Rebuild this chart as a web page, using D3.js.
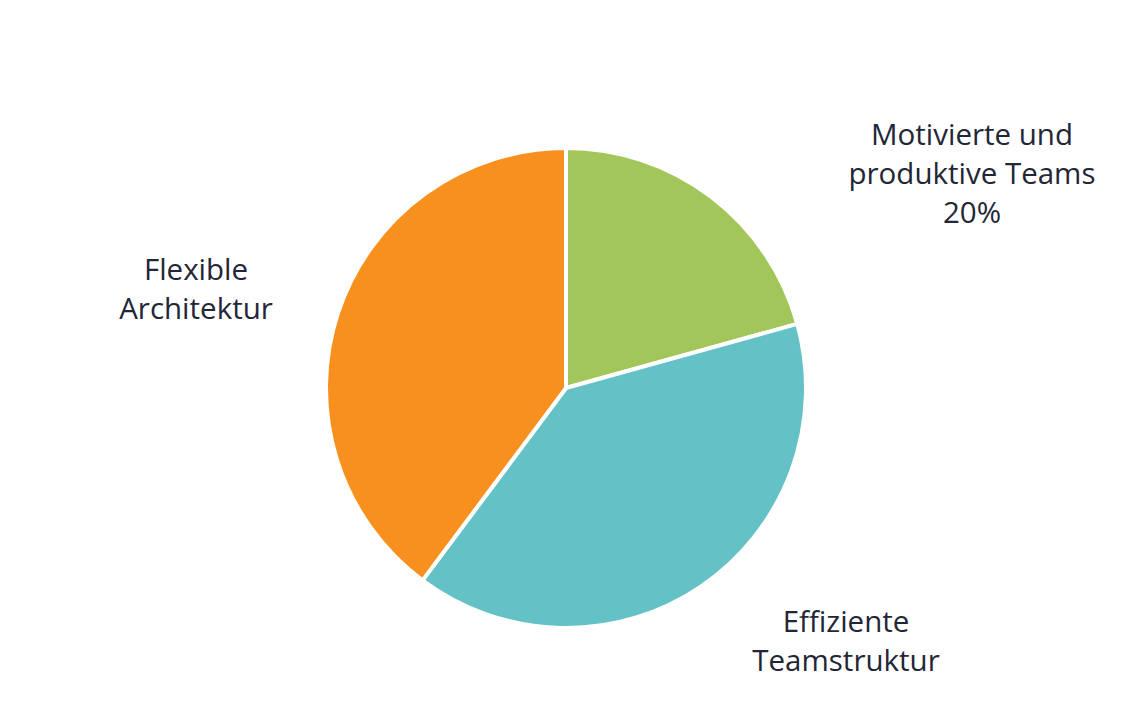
<!DOCTYPE html>
<html>
<head>
<meta charset="utf-8">
<script src="https://cdn.jsdelivr.net/npm/d3@7"></script>
<style>
  html, body { margin: 0; padding: 0; background: #ffffff; }
  svg { display: block; }
</style>
</head>
<body>
<svg id="chart" width="1130" height="702"></svg>
<script>
// Data
const categories = ["Motivierte und produktive Teams", "Effiziente Teamstruktur", "Flexible Architektur"];
const values = [20.7, 39.5, 39.8];
const labelLines = [
  ["Motivierte und", "produktive Teams", "20%"],
  ["Effiziente", "Teamstruktur"],
  ["Flexible", "Architektur"]
];
const colors = ["#A3C65A", "#64C1C5", "#F7901E"];

// Layout
const W = 1130, H = 702;
const cx = 566, cy = 388, R = 240;
const labelAnchors = [ [972, 145], [846, 632], [196, 280] ]; // first-line baselines
const lineHeight = 39;

const svg = d3.select("#chart");
const g = svg.append("g").attr("transform", `translate(${cx},${cy})`);

const data = categories.map((c, i) => ({ name: c, value: values[i], i }));
const pie = d3.pie().value(d => d.value).sort(null);
const arc = d3.arc().innerRadius(0).outerRadius(R);

g.selectAll("path.slice")
  .data(pie(data))
  .join("path")
  .attr("class", "slice")
  .attr("d", arc)
  .attr("fill", d => colors[d.data.i])
  .attr("stroke", "#ffffff")
  .attr("stroke-width", 4)
  .attr("stroke-linejoin", "round");

const labels = svg.selectAll("text.lbl")
  .data(data)
  .join("text")
  .attr("class", "lbl")
  .attr("text-anchor", "middle")
  .attr("font-family", "'Open Sans', sans-serif")
  .attr("font-size", 29.5)
  .attr("font-weight", 500)
  .attr("fill", "#232636");

labels.each(function(d) {
  const t = d3.select(this);
  const [ax, ay] = labelAnchors[d.i];
  labelLines[d.i].forEach((line, k) => {
    t.append("tspan").attr("x", ax).attr("y", ay + k * lineHeight).text(line);
  });
});
</script>
</body>
</html>
